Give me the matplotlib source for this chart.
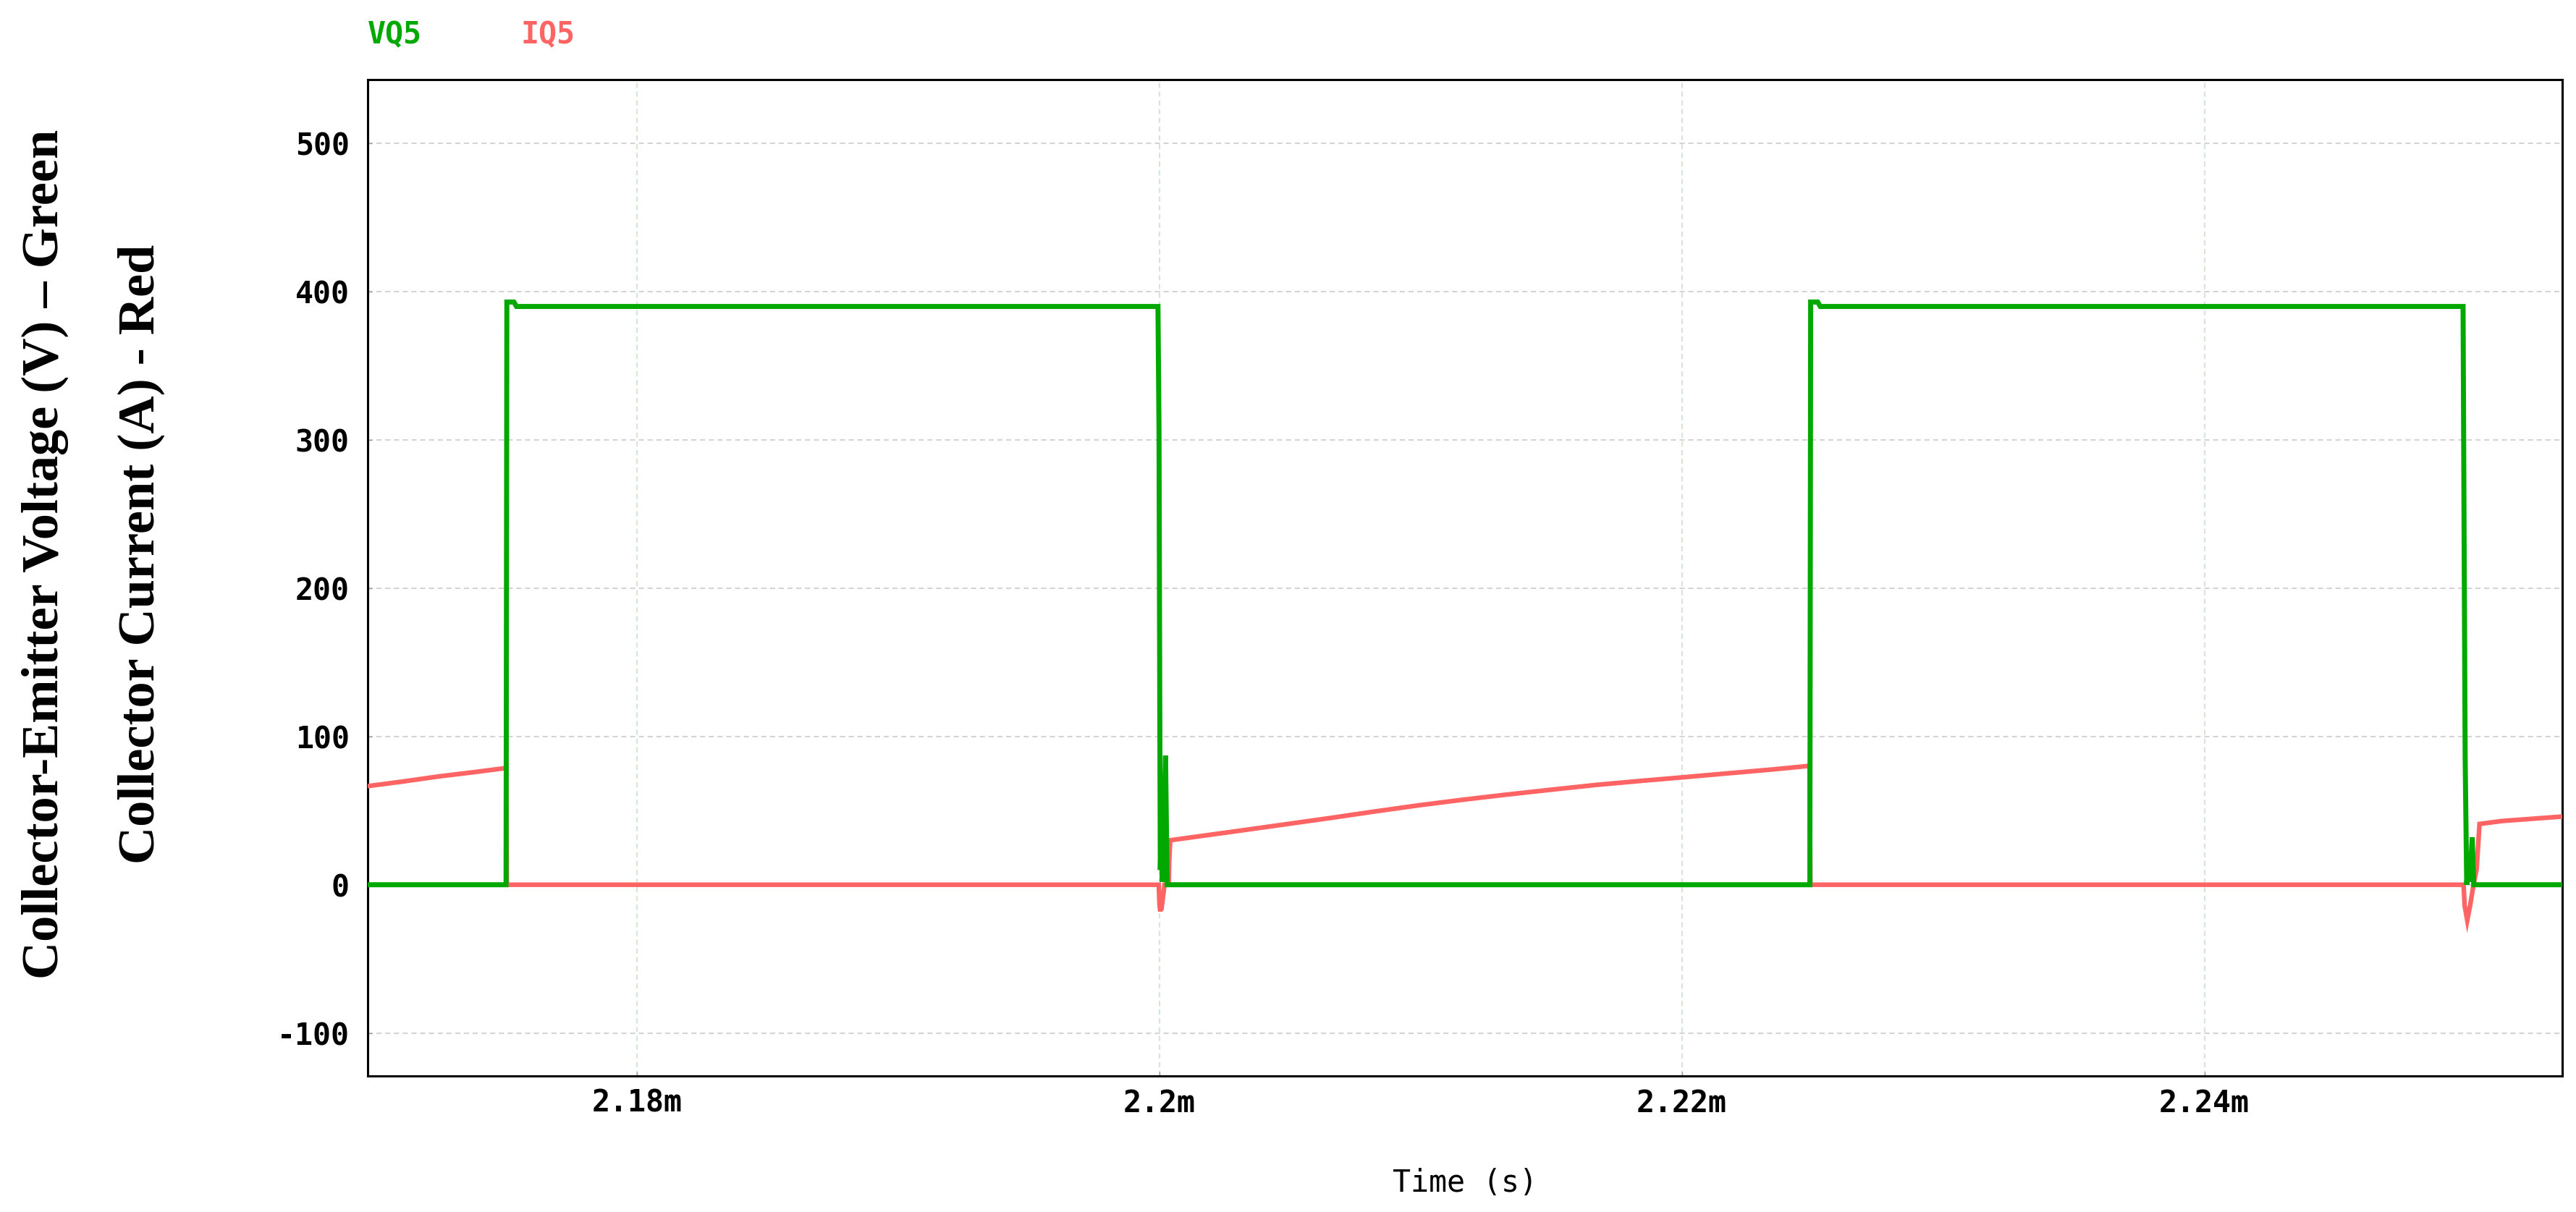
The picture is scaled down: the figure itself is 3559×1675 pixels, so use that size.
import numpy as np
import matplotlib
matplotlib.use("Agg")
import matplotlib.pyplot as plt
from matplotlib.ticker import FuncFormatter, FixedLocator

# ---------------- data (time in ms) ----------------
vq5_t_ms = [2.1697, 2.17500, 2.17503, 2.17530, 2.17540, 2.19995, 2.19999, 2.20002,
            2.20004, 2.20008, 2.20012, 2.20024, 2.20030, 2.22490, 2.22493, 2.22520,
            2.22530, 2.24990, 2.24994, 2.24998, 2.25004, 2.25010, 2.25016, 2.25025,
            2.25031, 2.2537]
vq5_v = [0, 0, 393, 393, 390, 390, 306, 116,
         10, 40, 2, 87, 0, 0, 393, 393,
         390, 390, 235, 86, 0, 18, 2, 32,
         0, 0]

iq5_t_ms = [2.1697, 2.1710, 2.1724, 2.1738, 2.17495, 2.17500, 2.17503, 2.19998,
            2.20001, 2.20004, 2.20006, 2.20008, 2.20020, 2.20036, 2.20038, 2.20042,
            2.2031, 2.2048, 2.2065, 2.2082, 2.2099, 2.2116, 2.2133, 2.2150,
            2.2167, 2.2184, 2.2200, 2.2218, 2.2235, 2.22489,
            2.22492, 2.24992, 2.24996, 2.25006, 2.25018, 2.25030, 2.25042, 2.25053,
            2.2514, 2.2537]
iq5_a = [66.5, 69.5, 73, 76, 78.6, 79.5, 0, 0,
         -14, -18, -10, -17, 0, 0, 16, 30,
         36.5, 40.7, 44.9, 49.3, 53.5, 57.3, 60.8, 64.1,
         67.3, 70.0, 72.4, 75.2, 77.8, 80.2,
         0, 0, -14, -24, -13, 0, 10.5, 41,
         43, 46]

x_ticks_ms = [2.18, 2.20, 2.22, 2.24]
y_ticks = [-100, 0, 100, 200, 300, 400, 500]
x_range_ms = [2.1697, 2.2537]
y_range = [-129, 543]

series_names = ["VQ5", "IQ5"]
ylabel_voltage = "Collector-Emitter Voltage (V) \u2013 Green"
ylabel_current = "Collector Current (A) - Red"
xlabel_text = "Time (s)"

# ---------------- styling ----------------
GREEN = "#00A800"
RED = "#FF6464"
MONO = "DejaVu Sans Mono"
SERIF = "Liberation Serif"

fig = plt.figure(figsize=(35.59, 16.75), dpi=100)
ax = fig.add_axes([0.1427, 0.1122, 0.8520, 0.8221])

t_v = np.array(vq5_t_ms) * 1e-3
t_i = np.array(iq5_t_ms) * 1e-3

ax.plot(t_i, iq5_a, color=RED, lw=4.6, zorder=3, solid_joinstyle="miter")
ax.plot(t_v, vq5_v, color=GREEN, lw=5.0, zorder=4, solid_joinstyle="miter")

ax.set_xlim(x_range_ms[0] * 1e-3, x_range_ms[1] * 1e-3)
ax.set_ylim(*y_range)
ax.xaxis.set_major_locator(FixedLocator(np.array(x_ticks_ms) * 1e-3))
ax.yaxis.set_major_locator(FixedLocator(y_ticks))
ax.xaxis.set_major_formatter(FuncFormatter(lambda v, p: f"{round(v * 1e3, 6):g}m"))
ax.yaxis.set_major_formatter(FuncFormatter(lambda v, p: f"{int(round(v))}"))

dash = (0, (3.4, 2.4))
ax.grid(axis="y", color="#D4D4D4", lw=1.5, linestyle=dash, zorder=0)
ax.grid(axis="x", color="#D6E6D6", lw=1.5, linestyle=dash, zorder=0)

for s in ax.spines.values():
    s.set_linewidth(2.2)
    s.set_color("black")

ax.tick_params(axis="both", direction="in", length=4, width=1, color="#999999",
               labelsize=30)
ax.tick_params(axis="y", pad=18)
ax.tick_params(axis="x", pad=12)
for lab in ax.get_xticklabels() + ax.get_yticklabels():
    lab.set_fontfamily(MONO)
    lab.set_fontweight("bold")

# axis titles
fig.text(0.5687, 0.0167, xlabel_text, ha="center", va="baseline",
         fontsize=30, family=MONO)
fig.text(0.0174, 0.5427, ylabel_voltage, rotation=90, ha="center", va="center",
         fontsize=52, family=SERIF, fontweight="bold")
fig.text(0.0548, 0.5427, ylabel_current, rotation=90, ha="center", va="center",
         fontsize=52, family=SERIF, fontweight="bold")

# series names above plot
fig.text(0.1427, 0.964, series_names[0], ha="left", va="baseline",
         fontsize=30, family=MONO, color=GREEN, fontweight="bold")
fig.text(0.2023, 0.964, series_names[1], ha="left", va="baseline",
         fontsize=30, family=MONO, color=RED, fontweight="bold")

fig.savefig("out.png", dpi=100)
